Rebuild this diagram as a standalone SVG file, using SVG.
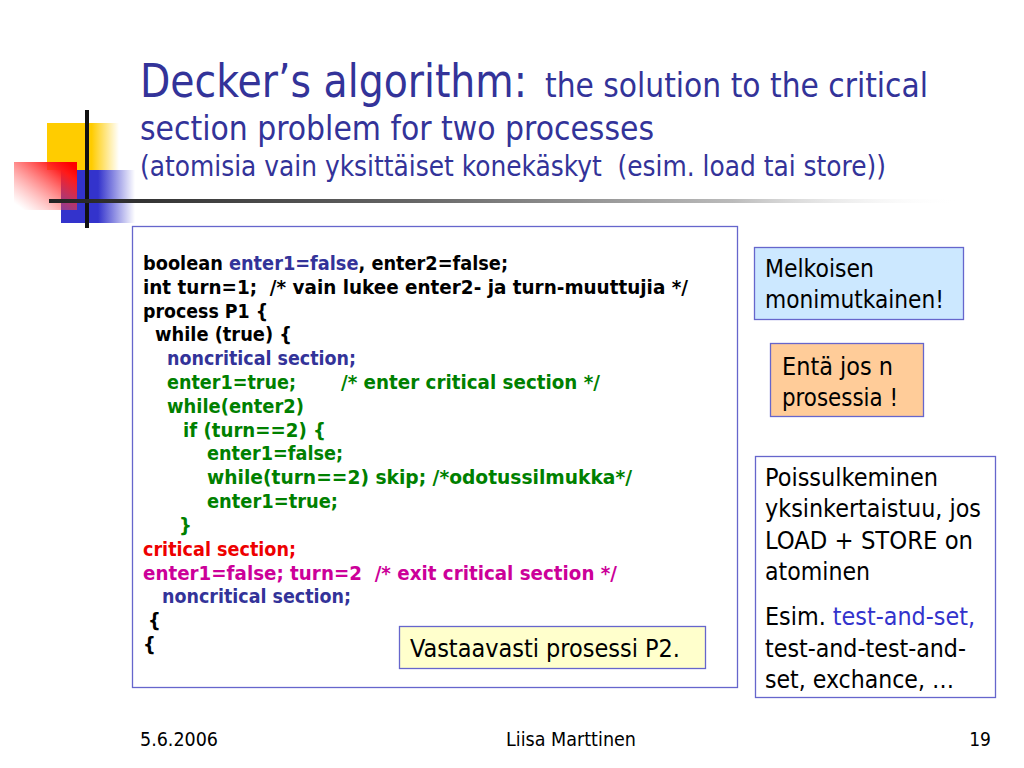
<svg xmlns="http://www.w3.org/2000/svg" width="1024" height="768" viewBox="0 0 1024 768">
<defs>
<linearGradient id="gY" x1="0" y1="0" x2="1" y2="0"><stop offset="0" stop-color="#ffcc00"/><stop offset="0.62" stop-color="#ffcc00"/><stop offset="1" stop-color="#ffcc00" stop-opacity="0"/></linearGradient>
<linearGradient id="gR" x1="1" y1="0.15" x2="0.15" y2="1"><stop offset="0" stop-color="#ff0000"/><stop offset="0.15" stop-color="#ff1a1a"/><stop offset="1" stop-color="#ff6666" stop-opacity="0"/></linearGradient>
<linearGradient id="gB" x1="0" y1="0" x2="1" y2="0"><stop offset="0" stop-color="#3333cc"/><stop offset="0.5" stop-color="#3333cc"/><stop offset="1" stop-color="#3333cc" stop-opacity="0"/></linearGradient>
<linearGradient id="gL" x1="0" y1="0" x2="1" y2="0"><stop offset="0" stop-color="#222222"/><stop offset="0.4" stop-color="#666666"/><stop offset="0.75" stop-color="#bbbbbb"/><stop offset="1" stop-color="#ffffff" stop-opacity="0"/></linearGradient>
</defs>
<style>
text{font-family:'DejaVu Sans Condensed','DejaVu Sans',Tahoma,sans-serif;white-space:pre}
.ttl{fill:#333399}
.code{font-weight:bold;font-size:20px;fill:#000}
.blu{fill:#333399}
.grn{fill:#008000}
.red{fill:#ee0000}
.mag{fill:#cc0099}
.note{font-size:25.6px;fill:#000}
.box{stroke:#6666cc;stroke-width:1.3}
.foot{font-size:19px;fill:#000}
</style>
<rect width="1024" height="768" fill="#ffffff"/>
<g id="logo">
<rect x="47" y="123" width="72" height="47" fill="url(#gY)"/>
<rect x="61" y="170" width="74" height="53" fill="url(#gB)"/>
<rect x="14" y="162" width="63" height="48" fill="url(#gR)"/>
<rect x="85" y="110" width="4" height="118" fill="#111111"/>
<rect x="49" y="199" width="912" height="4" fill="url(#gL)"/>
</g>
<g id="title">
<text x="140" y="97" class="ttl" font-size="45.5" textLength="387" lengthAdjust="spacingAndGlyphs">Decker’s algorithm:</text>
<text x="545" y="97" class="ttl" font-size="34" textLength="383" lengthAdjust="spacingAndGlyphs">the solution to the critical</text>
<text x="140" y="140" class="ttl" font-size="34" textLength="514" lengthAdjust="spacingAndGlyphs">section problem for two processes</text>
<text x="140" y="176" class="ttl" font-size="28.4" textLength="746" lengthAdjust="spacingAndGlyphs">(atomisia vain yksittäiset konekäskyt  (esim. load tai store))</text>
</g>
<g id="code-box">
<rect x="132.5" y="226.5" width="605" height="461" fill="#ffffff" class="box"/>
<text x="143" y="270" class="code" textLength="365" lengthAdjust="spacingAndGlyphs">boolean <tspan class="blu">enter1=false</tspan>, enter2=false;</text>
<text x="143" y="294" class="code" textLength="545" lengthAdjust="spacingAndGlyphs">int turn=1;  /* vain lukee enter2- ja turn-muuttujia */</text>
<text x="143" y="318" class="code" textLength="125" lengthAdjust="spacingAndGlyphs">process P1 {</text>
<text x="155" y="341" class="code" textLength="137" lengthAdjust="spacingAndGlyphs">while (true) {</text>
<text x="167" y="365" class="code blu" textLength="189" lengthAdjust="spacingAndGlyphs">noncritical section;</text>
<text x="167" y="389" class="code grn" textLength="129" lengthAdjust="spacingAndGlyphs">enter1=true;</text>
<text x="341" y="389" class="code grn" textLength="259" lengthAdjust="spacingAndGlyphs">/* enter critical section */</text>
<text x="167" y="413" class="code grn" textLength="137" lengthAdjust="spacingAndGlyphs">while(enter2)</text>
<text x="183" y="437" class="code grn" textLength="143" lengthAdjust="spacingAndGlyphs">if (turn==2) {</text>
<text x="207" y="460" class="code grn" textLength="136" lengthAdjust="spacingAndGlyphs">enter1=false;</text>
<text x="207" y="484" class="code grn" textLength="425" lengthAdjust="spacingAndGlyphs">while(turn==2) skip; /*odotussilmukka*/</text>
<text x="207" y="508" class="code grn" textLength="131" lengthAdjust="spacingAndGlyphs">enter1=true;</text>
<text x="179" y="532" class="code grn">}</text>
<text x="143" y="556" class="code red" textLength="153" lengthAdjust="spacingAndGlyphs">critical section;</text>
<text x="143" y="580" class="code mag" textLength="474" lengthAdjust="spacingAndGlyphs">enter1=false; turn=2  /* exit critical section */</text>
<text x="162" y="603" class="code blu" textLength="189" lengthAdjust="spacingAndGlyphs">noncritical section;</text>
<text x="148" y="627" class="code">{</text>
<text x="143" y="651" class="code">{</text>
</g>
<g id="note-p2">
<rect x="399.5" y="626.5" width="306" height="42" fill="#ffffcc" class="box"/>
<text x="410" y="657" class="note" textLength="270" lengthAdjust="spacingAndGlyphs">Vastaavasti prosessi P2.</text>
</g>
<g id="note-melkoisen">
<rect x="754.5" y="247.5" width="209" height="72" fill="#cce8ff" class="box"/>
<text x="765" y="277" class="note" textLength="109" lengthAdjust="spacingAndGlyphs">Melkoisen</text>
<text x="765" y="308" class="note" textLength="179" lengthAdjust="spacingAndGlyphs">monimutkainen!</text>
</g>
<g id="note-enta">
<rect x="770.5" y="343.5" width="153" height="73" fill="#ffcc99" class="box"/>
<text x="782" y="375" class="note" textLength="111" lengthAdjust="spacingAndGlyphs">Entä jos n</text>
<text x="782" y="406" class="note" textLength="116" lengthAdjust="spacingAndGlyphs">prosessia !</text>
</g>
<g id="note-poissulkeminen">
<rect x="755.5" y="456.5" width="240" height="241" fill="#ffffff" class="box"/>
<text x="765" y="486" class="note" textLength="173" lengthAdjust="spacingAndGlyphs">Poissulkeminen</text>
<text x="765" y="517" class="note" textLength="216" lengthAdjust="spacingAndGlyphs">yksinkertaistuu, jos</text>
<text x="765" y="549" class="note" textLength="208" lengthAdjust="spacingAndGlyphs">LOAD + STORE on</text>
<text x="765" y="580" class="note" textLength="105" lengthAdjust="spacingAndGlyphs">atominen</text>
<text x="765" y="625" class="note" textLength="210" lengthAdjust="spacingAndGlyphs">Esim. <tspan fill="#3333cc">test-and-set,</tspan></text>
<text x="765" y="657" class="note" textLength="201" lengthAdjust="spacingAndGlyphs">test-and-test-and-</text>
<text x="765" y="688" class="note" textLength="189" lengthAdjust="spacingAndGlyphs">set, exchance, …</text>
</g>
<g id="connectors"></g>
<g id="footer">
<text x="140" y="746" class="foot" textLength="78" lengthAdjust="spacingAndGlyphs">5.6.2006</text>
<text x="506" y="746" class="foot" textLength="130" lengthAdjust="spacingAndGlyphs">Liisa Marttinen</text>
<text x="991" y="746" class="foot" text-anchor="end">19</text>
</g>
</svg>
